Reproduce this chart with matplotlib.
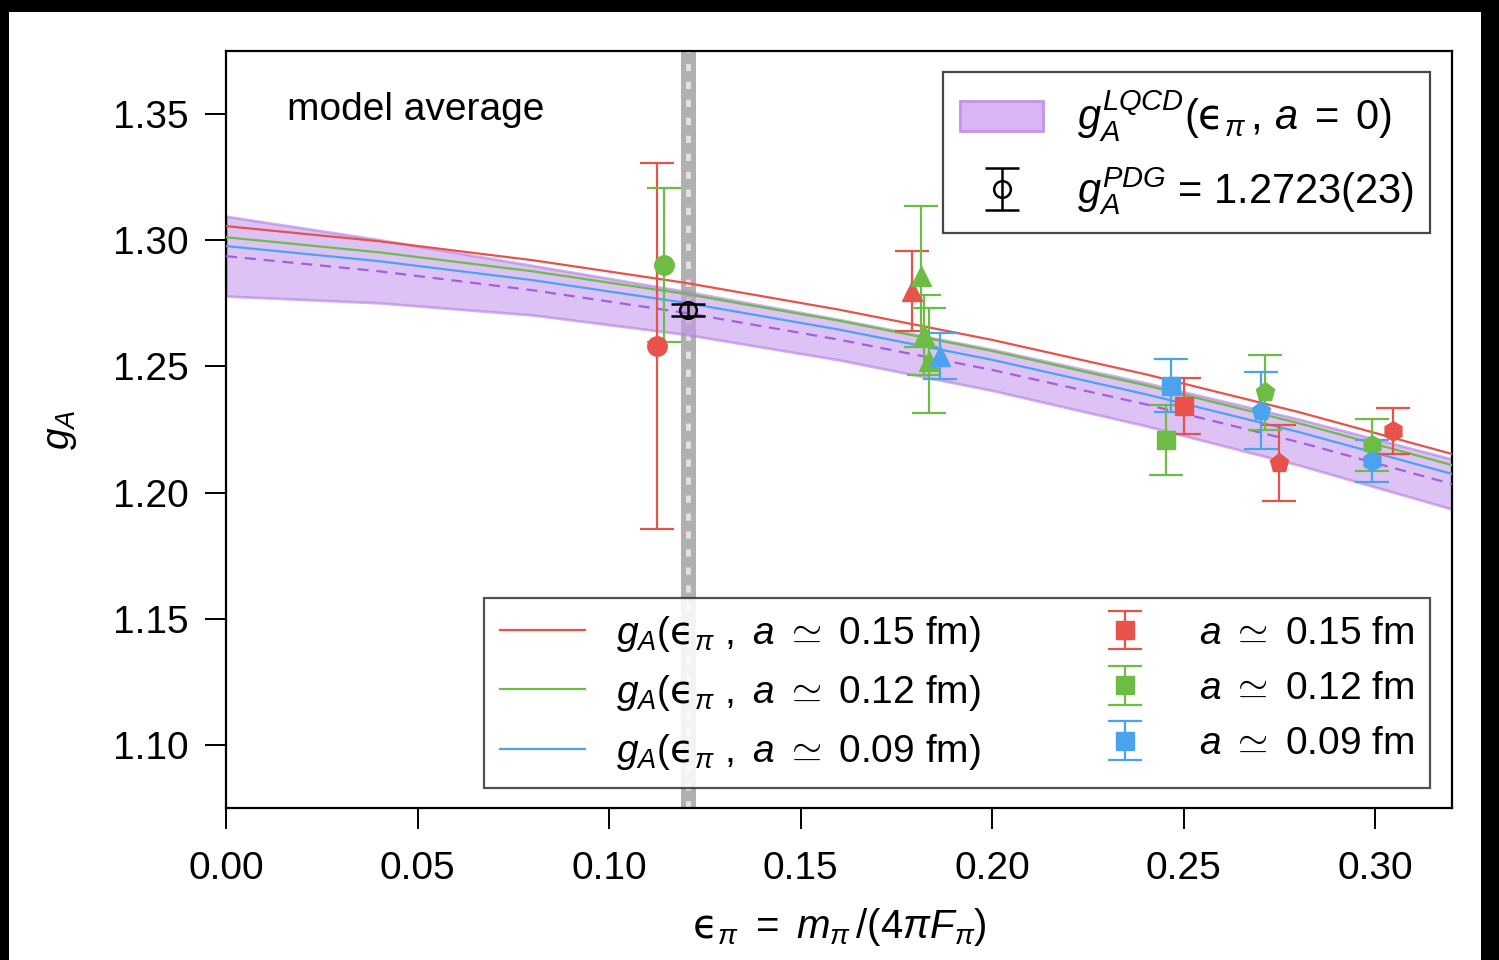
import numpy as np
import matplotlib
matplotlib.use("Agg")
import matplotlib.pyplot as plt
from matplotlib.patches import Patch, Rectangle

plt.rcParams['font.family'] = ['Liberation Sans', 'DejaVu Sans']
plt.rcParams['mathtext.fontset'] = 'custom'
plt.rcParams['mathtext.rm'] = 'Liberation Sans'
plt.rcParams['mathtext.it'] = 'Liberation Sans:italic'
plt.rcParams['mathtext.bf'] = 'Liberation Sans:bold'
plt.rcParams['mathtext.sf'] = 'DejaVu Sans'

# fit curves
eps_curve = [0.00, 0.04, 0.08, 0.12, 0.16, 0.20, 0.24, 0.28, 0.32]
fit_015 = [1.3056, 1.2996, 1.2921, 1.2831, 1.2725, 1.2605, 1.2469, 1.2319, 1.2153]
fit_012 = [1.3012, 1.2952, 1.2877, 1.2787, 1.2681, 1.2561, 1.2425, 1.2275, 1.2109]
fit_009 = [1.2977, 1.2917, 1.2842, 1.2752, 1.2646, 1.2526, 1.2390, 1.2240, 1.2074]
fit_cont = [1.2937, 1.2877, 1.2802, 1.2712, 1.2606, 1.2486, 1.2350, 1.2200, 1.2034]
band_lo = [1.2779, 1.2752, 1.2704, 1.2627, 1.2526, 1.2405, 1.2265, 1.2109, 1.1935]
band_hi = [1.3095, 1.3002, 1.2900, 1.2797, 1.2686, 1.2567, 1.2435, 1.2291, 1.2133]

# lattice data: eps_pi, g_A, error, marker
eps_015 = [0.1125, 0.1790, 0.2501, 0.2749, 0.3045]
ga_015 = [1.2581, 1.2799, 1.2344, 1.2117, 1.2245]
err_015 = [0.0727, 0.0157, 0.0112, 0.0149, 0.0092]
mk_015 = ['o', '^', 's', 'p', 'h']

eps_012 = [0.1144, 0.1814, 0.1823, 0.1836, 0.2453, 0.2712, 0.2991]
ga_012 = [1.2902, 1.2857, 1.2624, 1.2523, 1.2210, 1.2397, 1.2189]
err_012 = [0.0307, 0.0280, 0.0158, 0.0208, 0.0139, 0.0148, 0.0104]
mk_012 = ['o', '^', '^', '^', 's', 'p', 'h']

eps_009 = [0.1864, 0.2466, 0.2702, 0.2991]
ga_009 = [1.2542, 1.2424, 1.2325, 1.2126]
err_009 = [0.0090, 0.0106, 0.0152, 0.0083]
mk_009 = ['^', 's', 'p', 'h']

eps_phys = 0.1207
ga_pdg = 1.2723
err_pdg = 0.0023

spacings = ['0.15', '0.12', '0.09']
red = '#e8524b'
green = '#6dbd45'
blue = '#4ba3f0'
purple = '#a45fdc'

EPS = r'\mathsf{ϵ}'

fig = plt.figure(figsize=(14.99, 9.6), dpi=100, facecolor='black')
fig.patches.append(Rectangle((9/1499, 0), 1472/1499, 1 - 12/960, transform=fig.transFigure,
                             facecolor='white', edgecolor='none', zorder=-10))
ax = fig.add_axes([226/1499, 1 - 808/960, 1226/1499, 757/960])

# physical point
ax.axvspan(eps_phys - 0.0019, eps_phys + 0.0019, color='#a8a8a8', alpha=0.9, lw=0, zorder=1)
ax.axvline(eps_phys, color='#e2e2e2', lw=3.5, ls=(0, (1.5, 2.2)), zorder=1.1)

ax.fill_between(eps_curve, band_lo, band_hi, facecolor='#c79bef', alpha=0.6,
                edgecolor='#b27ee3', lw=2, zorder=2)
ax.plot(eps_curve, fit_cont, color=purple, lw=1.6, ls=(0, (5, 3.5)), zorder=3)

fits = [fit_015, fit_012, fit_009]
cols = [red, green, blue]
line_handles = []
for fit, c, a in zip(fits, cols, spacings):
    h, = ax.plot(eps_curve, fit, color=c, lw=1.6, zorder=3,
                 label=r'$g_A(%s_\pi\ ,\ a\ \simeq\ %s$ fm$)$' % (EPS, a))
    line_handles.append(h)

datasets = [(eps_015, ga_015, err_015, mk_015), (eps_012, ga_012, err_012, mk_012),
            (eps_009, ga_009, err_009, mk_009)]
for (xs, ys, es, mks), c in zip(datasets, cols):
    for x, y, e, m in zip(xs, ys, es, mks):
        ms = 14 if m in ('o', 'h', 'p') else 13
        if m == '^':
            ms = 15
        ax.errorbar(x, y, yerr=e, fmt=m, color=c, ms=ms, elinewidth=1.6,
                    capsize=12, capthick=1.6, zorder=4)

pt_handles = []
for c, a in zip(cols, spacings):
    h = ax.errorbar([np.nan], [np.nan], yerr=[np.nan], fmt='s', color=c, ms=13,
                    elinewidth=1.6, capsize=12, capthick=1.6,
                    label=r'$a\ \simeq\ %s$ fm' % a)
    pt_handles.append(h)

pdg = ax.errorbar(eps_phys, ga_pdg, yerr=err_pdg, fmt='o', mfc='none', mec='black',
                  color='black', ms=12, mew=1.8, elinewidth=1.8, capsize=12, capthick=1.8,
                  zorder=5)

ax.set_xlim(0, 0.32)
ax.set_ylim(1.075, 1.375)
ax.set_xticks([0.00, 0.05, 0.10, 0.15, 0.20, 0.25, 0.30])
ax.set_yticks([1.10, 1.15, 1.20, 1.25, 1.30, 1.35])
ax.xaxis.set_major_formatter(matplotlib.ticker.FormatStrFormatter('%.2f'))
ax.yaxis.set_major_formatter(matplotlib.ticker.FormatStrFormatter('%.2f'))
ax.tick_params(direction='out', length=15, width=1.4, labelsize=28)
ax.tick_params(axis='x', pad=16)
ax.tick_params(axis='y', pad=12)
for s in ax.spines.values():
    s.set_linewidth(1.6)

ax.set_xlabel(r'$%s_\pi\ =\ m_\pi\,/(4\pi F_\pi)$' % EPS, fontsize=29, labelpad=14)
ax.set_ylabel(r'$g_A$', fontsize=28, labelpad=24)

ax.text(0.05, 0.922, 'model average', transform=ax.transAxes, fontsize=28,
        ha='left', va='center')

band_patch = Patch(facecolor='#d9b5f3', edgecolor='#c493ec', lw=2)
leg1 = ax.legend([band_patch, pdg],
                 [r'$g_A^{LQCD}(%s_\pi\,,\, a\;=\;0)$' % EPS, r'$g_A^{PDG}$ = 1.2723(23)'],
                 loc='upper right', bbox_to_anchor=(0.982, 0.9723), borderaxespad=0,
                 fontsize=30, fancybox=False, edgecolor='#333333', framealpha=0.9,
                 handlelength=2.0, handletextpad=0.8, borderpad=0.4, labelspacing=0.5)
leg1.get_frame().set_linewidth(1.6)
ax.add_artist(leg1)

leg2 = ax.legend(line_handles + pt_handles,
                 [h.get_label() for h in line_handles] + [h.get_label() for h in pt_handles],
                 loc='lower right', bbox_to_anchor=(0.982, 0.0264), borderaxespad=0,
                 ncol=2, fontsize=28, fancybox=False, edgecolor='#333333', framealpha=0.85,
                 handlelength=2.2, handletextpad=0.8, columnspacing=2.6, borderpad=0.4,
                 labelspacing=0.5)
leg2.get_frame().set_linewidth(1.6)

fig.savefig('out.png', dpi=100, facecolor=fig.get_facecolor())
